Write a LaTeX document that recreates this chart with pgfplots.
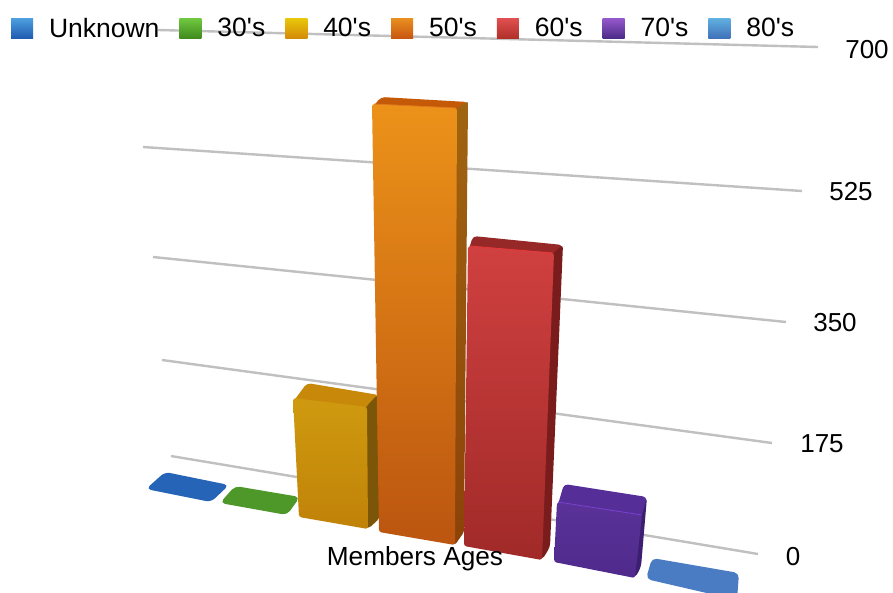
\documentclass[border=0pt]{standalone}
\usepackage{fontspec}
\setmainfont{Liberation Sans}
\usepackage{pgfplots}
\pgfplotsset{compat=1.18}

\definecolor{grid}{HTML}{C0C0C0}
\definecolor{unk}{HTML}{2664B8}
\definecolor{thirty}{HTML}{4E982A}
\definecolor{fortyT}{HTML}{CF9A0F}
\definecolor{fortyB}{HTML}{C08208}
\definecolor{fortyTop}{HTML}{C8880A}
\definecolor{fortySide}{HTML}{7C5608}
\definecolor{fiftyT}{HTML}{EC9219}
\definecolor{fiftyB}{HTML}{BB5510}
\definecolor{fiftyTop}{HTML}{C45A08}
\definecolor{fiftyEdge}{HTML}{E07820}
\definecolor{fiftySideT}{HTML}{A06510}
\definecolor{fiftySideB}{HTML}{8C4208}
\definecolor{sixtyT}{HTML}{D04040}
\definecolor{sixtyB}{HTML}{A02A28}
\definecolor{sixtyTop}{HTML}{962828}
\definecolor{sixtySide}{HTML}{7A1C1C}
\definecolor{sixtyEdge}{HTML}{E83838}
\definecolor{seventyT}{HTML}{5A3298}
\definecolor{seventyB}{HTML}{4F2A8C}
\definecolor{seventyTop}{HTML}{562E98}
\definecolor{seventySide}{HTML}{3C1F70}
\definecolor{seventyEdge}{HTML}{7A40D0}
\definecolor{eighty}{HTML}{4A7CC4}
% legend swatches
\definecolor{lgA}{HTML}{4D9FE0}\definecolor{lgAb}{HTML}{1F5BB0}
\definecolor{lgB}{HTML}{70C840}\definecolor{lgBb}{HTML}{3F8A1E}
\definecolor{lgC}{HTML}{E8C80A}\definecolor{lgCb}{HTML}{D48A08}
\definecolor{lgD}{HTML}{E89020}\definecolor{lgDb}{HTML}{C85510}
\definecolor{lgE}{HTML}{E05050}\definecolor{lgEb}{HTML}{B03028}
\definecolor{lgF}{HTML}{9558CC}\definecolor{lgFb}{HTML}{4C2A88}
\definecolor{lgG}{HTML}{60B0E0}\definecolor{lgGb}{HTML}{4070B8}

\tikzset{
  front/.style 2 args={shade,top color=#1,bottom color=#2,draw=none,rounded corners=2.5pt},
  face/.style={fill=#1,draw=none,rounded corners=4pt},
  flat/.style={fill=#1,draw=none,rounded corners=5pt},
  gridline/.style={draw=grid,line width=2.4pt},
}
\pgfplotsset{
  swatch/.style 2 args={legend image code/.code={
    \path[draw=none,shade,top color=#1,bottom color=#2] (0pt,-10pt) rectangle (22pt,10pt);}},
}

\begin{document}
\begin{tikzpicture}
\begin{axis}[
    scale only axis,
    width=893pt, height=592pt,
    xmin=0, xmax=893, ymin=0, ymax=592,
    y dir=reverse,
    axis lines=none,
    every axis plot/.append style={forget plot},
    legend columns=7,
    legend style={at={(axis cs:11,18)}, anchor=north west, draw=none, fill=none,
      inner sep=0pt, outer sep=0pt, font=\fontsize{26.5}{26.5}\selectfont,
      nodes={inner sep=0pt, outer sep=0pt},
      /tikz/every odd column/.style={column sep=16pt},
      /tikz/every even column/.style={column sep=20pt}},
    legend cell align={left},
]
% page background, keeps the picture at full size
\addplot[fill=white, draw=none] coordinates {(0,0) (893,0) (893,592) (0,592)} --cycle;

% gridlines, 0 to 700
\addplot[gridline] coordinates {(171,456) (758,554)};
\addplot[gridline] coordinates {(162,360) (772,443)};
\addplot[gridline] coordinates {(153,257) (786,322)};
\addplot[gridline] coordinates {(143,147) (802,191)};
\addplot[gridline] coordinates {(158,30) (818,47)};

% Unknown
\addplot[flat=unk] coordinates {(165,472) (229,485) (211,502) (146,489)} --cycle;
% 30's
\addplot[flat=thirty] coordinates {(235,486) (300,497) (287,515) (220,503)} --cycle;
% 40's
\addplot[face=fortyTop] coordinates {(293,402) (307,383) (379,395) (367,415)} --cycle;
\addplot[face=fortySide] coordinates {(360,420) (366,407) (378,394) (380,518) (368,529) (360,525)} --cycle;
\addplot[front={fortyT}{fortyB}] coordinates {(293,398) (367,407) (368,529) (299,517)} --cycle;
% 50's
\addplot[face=fiftyTop] coordinates {(372,108) (381,97) (468,102) (457,114)} --cycle;
\addplot[front={fiftySideT}{fiftySideB}] coordinates {(450,115) (457,108) (468,101) (464,532) (455,545) (448,540)} --cycle;
\addplot[front={fiftyT}{fiftyB}] coordinates {(372,104) (457,108) (455,545) (379,532)} --cycle;
\addplot[draw=fiftyEdge, line width=0.8pt] coordinates {(374,104) (456,108)};
% 60's
\addplot[face=sixtyTop] coordinates {(468,252) (473,236) (563,245) (554,260)} --cycle;
\addplot[face=sixtySide] coordinates {(546,260) (554,253) (563,244) (550,547) (542,560) (535,555)} --cycle;
\addplot[front={sixtyT}{sixtyB}] coordinates {(468,246) (554,253) (542,560) (464,546)} --cycle;
\addplot[draw=sixtyEdge, line width=0.8pt] coordinates {(470,246) (553,253)};
% 70's
\addplot[face=seventyTop] coordinates {(557,508) (564,484) (647,497) (642,522)} --cycle;
\addplot[face=seventySide] coordinates {(635,525) (642,515) (647,497) (641,567) (635,578) (628,572)} --cycle;
\addplot[front={seventyT}{seventyB}] coordinates {(557,502) (642,515) (635,578) (554,562)} --cycle;
\addplot[draw=seventyEdge, line width=0.8pt] coordinates {(558,502) (642,515)};
% 80's
\addplot[flat=eighty] coordinates {(652,558) (739,573) (737,600) (646,579)} --cycle;

\addlegendimage{swatch={lgA}{lgAb}}
\addlegendimage{swatch={lgB}{lgBb}}
\addlegendimage{swatch={lgC}{lgCb}}
\addlegendimage{swatch={lgD}{lgDb}}
\addlegendimage{swatch={lgE}{lgEb}}
\addlegendimage{swatch={lgF}{lgFb}}
\addlegendimage{swatch={lgG}{lgGb}}
\legend{Unknown,30\textquotesingle s,40\textquotesingle s,50\textquotesingle s,60\textquotesingle s,70\textquotesingle s,80\textquotesingle s}

\node[anchor=base, font=\fontsize{26}{26}\selectfont] at (axis cs:867,58) {700};
\node[anchor=base, font=\fontsize{26}{26}\selectfont] at (axis cs:851,200) {525};
\node[anchor=base, font=\fontsize{26}{26}\selectfont] at (axis cs:835,331) {350};
\node[anchor=base, font=\fontsize{26}{26}\selectfont] at (axis cs:822,452) {175};
\node[anchor=base, font=\fontsize{26}{26}\selectfont] at (axis cs:793,565) {0};
\node[anchor=base, font=\fontsize{26.2}{26}\selectfont] at (axis cs:415,565) {Members Ages};
\end{axis}
\end{tikzpicture}
\end{document}
